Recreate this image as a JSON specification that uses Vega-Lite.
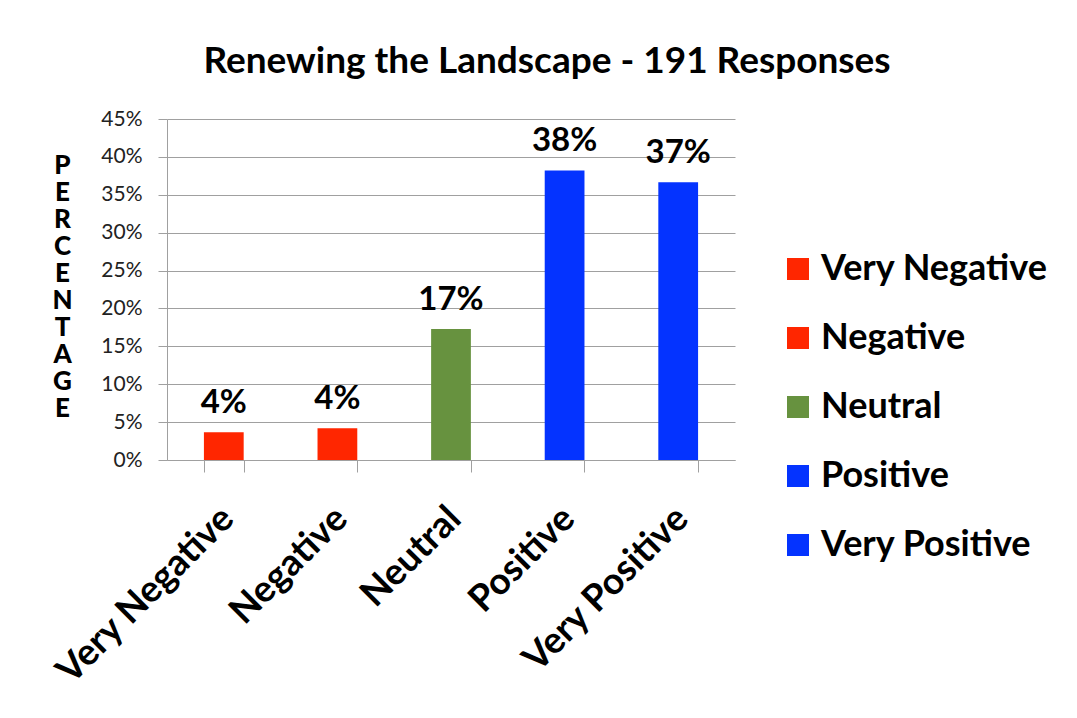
{
  "$schema": "https://vega.github.io/schema/vega-lite/v6.json",
  "autosize": {"type": "none"},
  "width": 568,
  "height": 341,
  "padding": {"left": 167, "top": 119, "right": 342, "bottom": 258},
  "background": "white",
  "config": {
    "font": "Lato",
    "view": {"stroke": null}
  },
  "title": {
    "text": "Renewing the Landscape - 191 Responses",
    "font": "Lato",
    "fontSize": 37,
    "fontWeight": "bold",
    "color": "black",
    "anchor": "middle",
    "dx": 96,
    "offset": 27
  },
  "data": {
    "values": [
      {"rating": "Very Negative", "share": 0.0366},
      {"rating": "Negative", "share": 0.0419},
      {"rating": "Neutral", "share": 0.1728},
      {"rating": "Positive", "share": 0.3822},
      {"rating": "Very Positive", "share": 0.3665}
    ]
  },
  "encoding": {
    "x": {
      "field": "rating",
      "type": "nominal",
      "sort": null,
      "scale": {"paddingInner": 0.65, "paddingOuter": 0.325},
      "axis": {
        "title": null,
        "labelAngle": -45,
        "labelFont": "Lato",
        "labelFontSize": 37,
        "labelFontWeight": "bold",
        "labelColor": "black",
        "labelPadding": 28,
        "labelOffset": -9,
        "labelLimit": 500,
        "tickBand": "extent",
        "tickSize": 12,
        "tickColor": "#a0a0a0",
        "domainColor": "#a0a0a0",
        "grid": false
      }
    },
    "y": {
      "field": "share",
      "type": "quantitative",
      "scale": {"domain": [0, 0.45], "nice": false},
      "axis": {
        "format": ".0%",
        "values": [0, 0.05, 0.1, 0.15, 0.2, 0.25, 0.3, 0.35, 0.4, 0.45],
        "title": ["P","E","R","C","E","N","T","A","G","E"],
        "titleAngle": 0,
        "titleFont": "Lato",
        "titleFontSize": 26,
        "titleFontWeight": "900",
        "titleLineHeight": 27,
        "titleAlign": "center",
        "titleBaseline": "top",
        "titleX": -105,
        "titleY": 33,
        "titleColor": "black",
        "labelFont": "Lato",
        "labelFontSize": 21,
        "labelColor": "#222222",
        "labelPadding": 16,
        "tickSize": 9,
        "tickColor": "#a0a0a0",
        "domainColor": "#a0a0a0",
        "gridColor": "#a0a0a0",
        "grid": true
      }
    }
  },
  "layer": [
    {
      "mark": {"type": "bar"},
      "encoding": {
        "color": {
          "field": "rating",
          "type": "nominal",
          "scale": {
            "domain": ["Very Negative", "Negative", "Neutral", "Positive", "Very Positive"],
            "range": ["#FF2600", "#FF2600", "#67923F", "#0433FF", "#0433FF"]
          },
          "legend": {
            "title": null,
            "orient": "none",
            "legendX": 613,
            "legendY": 132,
            "symbolType": "square",
            "symbolSize": 484,
            "symbolStrokeWidth": 0,
            "labelFont": "Lato",
            "labelFontSize": 36,
            "labelFontWeight": "bold",
            "labelColor": "black",
            "labelOffset": 5,
            "rowPadding": 33,
            "labelLimit": 400
          }
        }
      }
    },
    {
      "mark": {
        "type": "text",
        "baseline": "bottom",
        "dy": -12,
        "font": "Lato",
        "fontSize": 33,
        "fontWeight": "bold",
        "color": "black"
      },
      "encoding": {
        "text": {"field": "share", "type": "quantitative", "format": ".0%"}
      }
    }
  ]
}
